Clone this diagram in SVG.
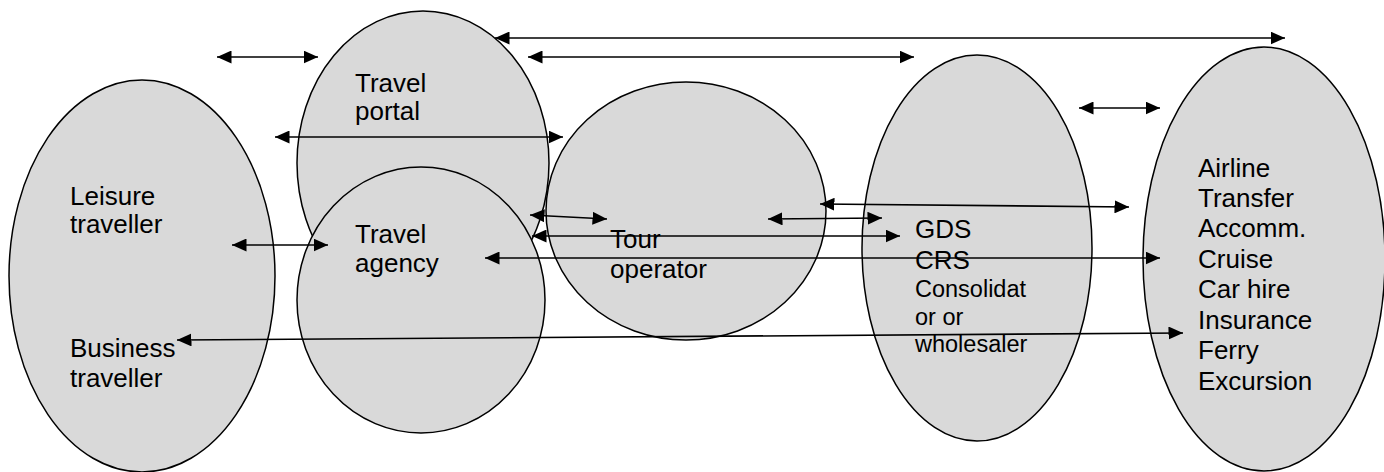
<svg xmlns="http://www.w3.org/2000/svg" width="1384" height="472" viewBox="0 0 1384 472">
<defs>
<style>
.node{fill:#d9d9d9;stroke:#000;stroke-width:1.5}
.t{font-family:"Liberation Sans",Arial,sans-serif;font-size:26px;fill:#000}
.s{font-family:"Liberation Sans",Arial,sans-serif;font-size:23.5px;fill:#000}
.c{stroke:#000;stroke-width:1.6;fill:none;marker-start:url(#ah);marker-end:url(#ah)}
</style>
<marker id="ah" markerUnits="userSpaceOnUse" markerWidth="15" markerHeight="13" refX="14.5" refY="6.5" orient="auto-start-reverse">
<path d="M0,0 L14.5,6.5 L0,13 z" fill="#000"/>
</marker>
</defs>
<rect width="1384" height="472" fill="#fff"/>
<g id="leisure-business">
<ellipse class="node" cx="142" cy="276" rx="133" ry="196"/>
<text class="t" x="70" y="205">Leisure</text>
<text class="t" x="70" y="233">traveller</text>
<text class="t" x="70" y="357">Business</text>
<text class="t" x="70" y="387">traveller</text>
</g>
<g id="travel-portal">
<ellipse class="node" cx="423" cy="163" rx="126" ry="152"/>
<text class="t" x="355" y="92">Travel</text>
<text class="t" x="355" y="120">portal</text>
</g>
<g id="tour-operator">
<ellipse class="node" cx="686" cy="211" rx="140" ry="129"/>
<text class="t" x="610" y="248">Tour</text>
<text class="t" x="610" y="278">operator</text>
</g>
<g id="travel-agency">
<ellipse class="node" cx="421" cy="300" rx="124" ry="133"/>
<text class="t" x="355" y="243">Travel</text>
<text class="t" x="355" y="272">agency</text>
</g>
<g id="gds">
<ellipse class="node" cx="977" cy="248" rx="115" ry="193"/>
<text class="t" x="915" y="238">GDS</text>
<text class="t" x="915" y="269">CRS</text>
<text class="s" x="915" y="297">Consolidat</text>
<text class="s" x="915" y="325">or or</text>
<text class="s" x="915" y="352">wholesaler</text>
</g>
<g id="suppliers">
<ellipse class="node" cx="1264" cy="259" rx="121" ry="212"/>
<text class="t" x="1198" y="177">Airline</text>
<text class="t" x="1198" y="207">Transfer</text>
<text class="t" x="1198" y="237">Accomm.</text>
<text class="t" x="1198" y="268">Cruise</text>
<text class="t" x="1198" y="298">Car hire</text>
<text class="t" x="1198" y="329">Insurance</text>
<text class="t" x="1198" y="359">Ferry</text>
<text class="t" x="1198" y="390">Excursion</text>
</g>
<g id="connectors">
<line class="c" x1="217" y1="57" x2="318" y2="57"/>
<line class="c" x1="495" y1="38" x2="1285" y2="38"/>
<line class="c" x1="528" y1="57" x2="914" y2="57"/>
<line class="c" x1="275" y1="137" x2="563" y2="137"/>
<line class="c" x1="1079" y1="108" x2="1160" y2="108"/>
<line class="c" x1="820" y1="204" x2="1129" y2="207"/>
<line class="c" x1="768" y1="219" x2="882" y2="218"/>
<line class="c" x1="530" y1="215" x2="607" y2="219"/>
<line class="c" x1="532" y1="236" x2="900" y2="236"/>
<line class="c" x1="232" y1="245" x2="328" y2="245"/>
<line class="c" x1="485" y1="258" x2="1160" y2="258"/>
<line class="c" x1="177" y1="340" x2="1183" y2="333"/>
</g>
</svg>
